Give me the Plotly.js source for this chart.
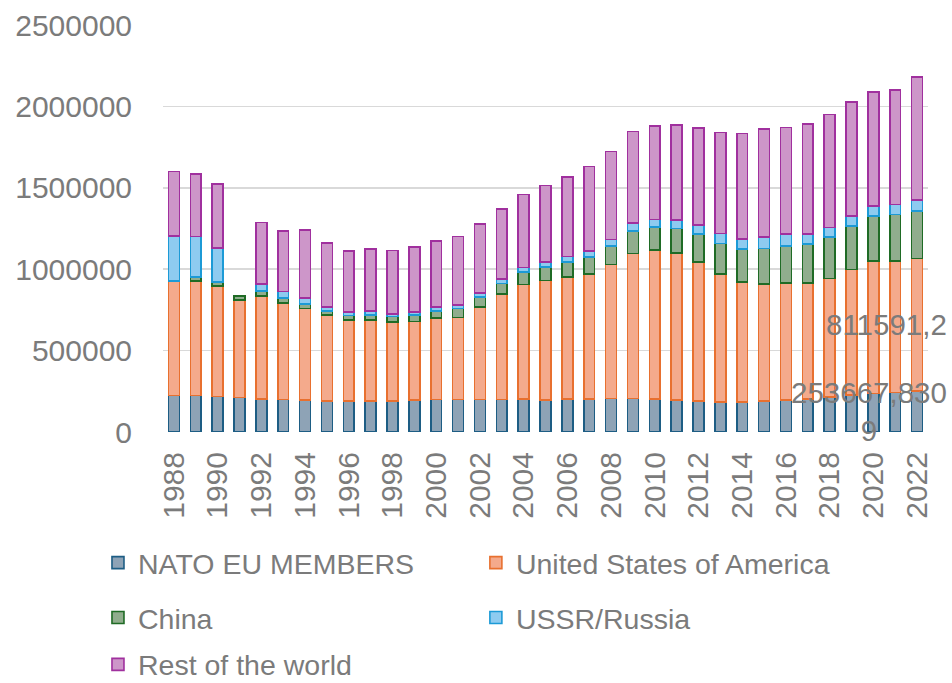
<!DOCTYPE html>
<html>
<head>
<meta charset="utf-8">
<script src="https://cdn.plot.ly/plotly-3.0.1.min.js"></script>
<style>html,body{margin:0;padding:0;background:#fff;}#chart{width:952px;height:683px;}</style>
</head>
<body>
<div id="chart"></div>
<script>
var years = [1988,1989,1990,1991,1992,1993,1994,1995,1996,1997,1998,1999,2000,2001,2002,2003,2004,2005,2006,2007,2008,2009,2010,2011,2012,2013,2014,2015,2016,2017,2018,2019,2020,2021,2022];
var natoEU = [224000,224000,219000,211000,203000,199000,195000,191000,191000,191000,191000,195000,199000,199000,199000,199000,201000,195000,201000,203000,205000,207000,201000,195000,191000,185000,185000,189000,197000,203000,215000,226000,236000,242000,253667.8309];
var usa = [705000,703000,677000,599000,632000,594000,564000,527000,496000,496000,484000,484000,500000,504000,568000,648000,705000,736000,750000,769000,825000,890000,916000,906000,855000,785000,738000,721000,719000,713000,728000,773000,814000,808000,811591.2];
var china = [null,26000,25000,27000,30000,29000,26000,26000,29000,31000,35000,41000,43000,56000,63000,65000,76000,84000,95000,104000,114000,139000,144000,150000,170000,189000,201000,218000,228000,240000,254000,266000,278000,285000,292000];
var russia = [274000,249000,209000,null,45000,41000,39000,25000,22000,24000,16000,18000,25000,22000,25000,29000,29000,31000,33000,37000,39000,46000,45000,51000,57000,61000,61000,68000,74000,62000,60000,62000,62000,63000,68000];
var rest = [396000,381000,395000,null,378000,371000,418000,393000,373000,383000,389000,398000,408000,421000,424000,430000,449000,467000,486000,517000,539000,563000,574000,584000,595000,619000,648000,666000,652000,674000,693000,699000,699000,703000,754000];
var seriesNames = ["NATO EU MEMBERS","United States of America","China","USSR/Russia","Rest of the world"];
var yTicks = [0,500000,1000000,1500000,2000000,2500000];
var xTicks = [1988,1990,1992,1994,1996,1998,2000,2002,2004,2006,2008,2010,2012,2014,2016,2018,2020,2022];

var FONT = "Liberation Sans, Arial, sans-serif";
var GREY = "#7b7b7b";
var fills = ["#8ea3b6","#f4aa8c","#90ad8d","#8ecbf0","#cd96c9"];
var lines = ["#1d5d84","#e8702f","#1f6b25","#1c9ad6","#a0309e"];
var allData = [natoEU, usa, china, russia, rest];
var legendIds = ["legend","legend2","legend3","legend4","legend5"];

var traces = allData.map(function(vals, i){
  return {
    type: "bar", x: years, y: vals, name: seriesNames[i], width: 0.5,
    marker: {color: fills[i], line: {color: lines[i], width: 1.6}},
    legend: legendIds[i], hoverinfo: "x+y+name"
  };
});

function fmt(v){ return String(v).replace(".", ","); }
var last = years.length - 1;
var usaLabel = fmt(usa[last]);
var natoLabelFull = fmt(natoEU[last]);
var natoLabel = natoLabelFull.slice(0,10) + "<br>" + natoLabelFull.slice(10);

function leg(x, y){
  return {x: x, y: y, xanchor: "left", yanchor: "middle", orientation: "h",
    font: {family: FONT, size: 28.5, color: GREY}, bgcolor: "rgba(0,0,0,0)", itemwidth: 30};
}

var layout = {
  width: 952, height: 683,
  margin: {l: 163, r: 24, t: 25, b: 251, autoexpand: false},
  paper_bgcolor: "#fff", plot_bgcolor: "#fff",
  barmode: "stack",
  font: {family: FONT, color: GREY},
  xaxis: {type: "linear", range: [1987.5, 2022.5], tickmode: "array", tickvals: xTicks,
    ticktext: xTicks.map(String), tickangle: -90, showgrid: false, zeroline: false, showline: false,
    ticks: "", ticklabelstandoff: 13, tickfont: {family: FONT, size: 30, color: GREY}},
  yaxis: {range: [0, 2500000], tickmode: "array", tickvals: yTicks, ticktext: yTicks.map(String),
    showgrid: true, gridcolor: "#d9d9d9", gridwidth: 1.6, zeroline: false, showline: false,
    ticks: "", ticklabelstandoff: 30, tickfont: {family: FONT, size: 30, color: GREY}},
  legend: leg(-0.085, -0.322),
  legend2: leg(0.409, -0.322),
  legend3: leg(-0.085, -0.457),
  legend4: leg(0.409, -0.457),
  legend5: leg(-0.085, -0.572),
  annotations: [
    {xref: "x", yref: "y", x: years[last], y: natoEU[last] + usa[last]/2, text: usaLabel,
     showarrow: false, xanchor: "right", yanchor: "middle", xshift: 32, align: "center",
     font: {family: FONT, size: 29.5, color: GREY}},
    {xref: "x", yref: "y", x: years[last], y: natoEU[last]/2, text: natoLabel,
     showarrow: false, xanchor: "right", yanchor: "middle", xshift: 32, align: "center",
     font: {family: FONT, size: 29.5, color: GREY}}
  ],
  showlegend: true
};

Plotly.newPlot("chart", traces, layout, {displayModeBar: false, staticPlot: true});
</script>
</body>
</html>
